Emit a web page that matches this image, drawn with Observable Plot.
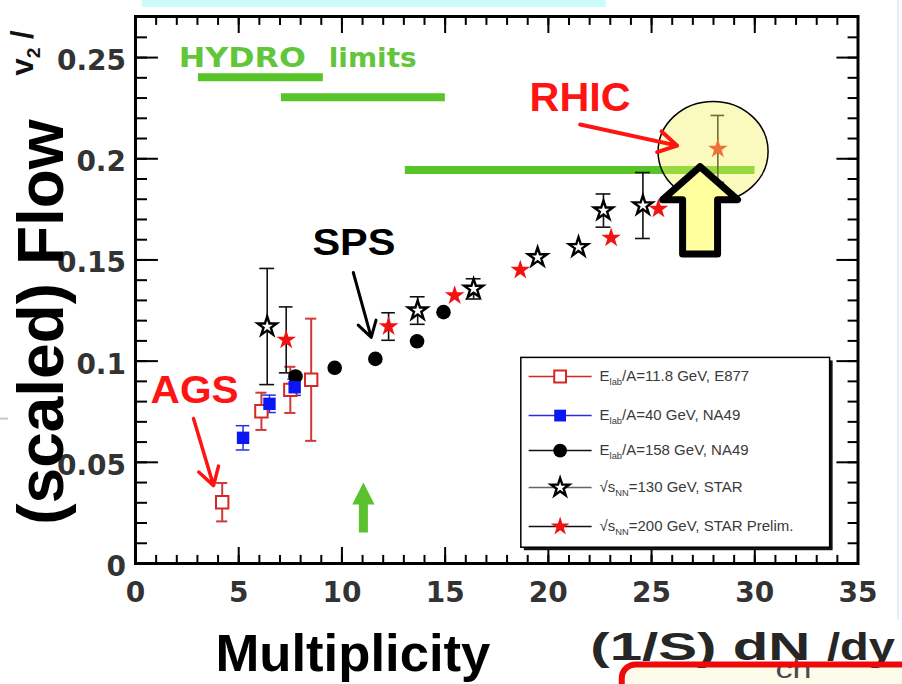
<!DOCTYPE html>
<html>
<head>
<meta charset="utf-8">
<script src="https://cdn.jsdelivr.net/npm/d3@7"></script>
<script src="https://cdn.jsdelivr.net/npm/@observablehq/plot@0.6"></script>
<style>
  html, body { margin: 0; padding: 0; background: #fff; }
  svg { display: block; }
</style>
</head>
<body>
<script>
// ================= DATA =================
// Multiplicity (1/S) dN_ch/dy  vs  scaled flow v2/eps
const e877X   = [4.20, 6.10, 7.50, 8.51];
const e877Y   = [0.0303, 0.0752, 0.0858, 0.0908];
const e877Err = [0.0095, 0.0092, 0.0114, 0.0302];

const na49lowX   = [5.21, 6.49, 7.71];
const na49lowY   = [0.0621, 0.0789, 0.0871];
const na49lowErr = [0.0060, 0.0043, 0.0040];

const na49highX = [7.75, 9.65, 11.62, 13.64, 14.92];
const na49highY = [0.0924, 0.0967, 0.1011, 0.1098, 0.1242];

const star130X   = [6.38, 13.67, 16.38, 19.48, 21.46, 22.67, 24.58];
const star130Y   = [0.1171, 0.1250, 0.1357, 0.1513, 0.1563, 0.1744, 0.1769];
const star130Err = [0.0287, 0.0068, 0.0050, 0, 0, 0.0082, 0.0163];

const star200X   = [7.30, 12.26, 15.46, 18.64, 23.04, 25.33, 28.21];
const star200Y   = [0.1105, 0.1171, 0.1324, 0.1450, 0.1609, 0.1752, 0.2049];
const star200Err = [0.0163, 0.0068, 0, 0, 0, 0, 0.0165];

// HYDRO limits (horizontal bands)
const hydroFrom = [3.05, 7.07, 13.07];
const hydroTo   = [9.10, 15.01, 30.01];
const hydroV2   = [0.2403, 0.2304, 0.1945];

const seriesNames = [
  "E_{lab}/A=11.8 GeV, E877",
  "E_{lab}/A=40 GeV, NA49",
  "E_{lab}/A=158 GeV, NA49",
  "√s_{NN}=130 GeV, STAR",
  "√s_{NN}=200 GeV, STAR Prelim."
];

const xTicks = [0, 5, 10, 15, 20, 25, 30, 35];
const xTickLabels = ["0", "5", "10", "15", "20", "25", "30", "35"];
const yTicks = [0, 0.05, 0.1, 0.15, 0.2, 0.25];
const yTickLabels = ["0", "0.05", "0.1", "0.15", "0.2", "0.25"];
const xMinorTicks = d3.range(0, 36);
const yMinorTicks = d3.range(0, 27).map(i => i / 100);

// ================= ANNOTATION PLACEMENT (data units) =================
const X_MAX = 35, Y_MAX = 0.2703;
const legendBox = {x1: 18.69, x2: 33.65, y1: 0.0078, y2: 0.1016};
const legendRowY = [0.0924, 0.0731, 0.0558, 0.0375, 0.0183];
const legendLineX = [19.07, 22.12], legendMarkX = 20.57, legendTextX = 22.48;

const rhicArrow = {x1: 21.54, y1: 0.2169, x2: 26.24, y2: 0.2065};
const spsArrow  = {x1: 10.55, y1: 0.1438, x2: 11.42, y2: 0.1117};
const agsArrow  = {x1: 2.81,  y1: 0.0716, x2: 3.78,  y2: 0.0385};
const rhicHalo  = {x: 27.98, y: 0.2036};
const yellowArrowSpec = {x: 27.35, tip: 0.1961, head: 0.1798, base: 0.1529, headHalf: 1.815, shaftHalf: 0.847};
const greenArrowSpec  = {x: 11.04, tip: 0.0400, head: 0.0292, base: 0.0153, headHalf: 0.54, shaftHalf: 0.218};
const cyanBar   = {x1: 0.34, x2: 22.80, y1: 0.2747, y2: 0.2790};
const redBox    = {x1: 23.58, x2: 40, y1: -0.0501, y2: -0.12};

// ================= HELPERS =================
const zip = (X, Y, E) => X.map((x, i) => ({x, y: Y[i], e: E ? E[i] : 0}));
const e877 = zip(e877X, e877Y, e877Err);
const na49low = zip(na49lowX, na49lowY, na49lowErr);
const na49high = zip(na49highX, na49highY);
const star130 = zip(star130X, star130Y, star130Err);
const star200 = zip(star200X, star200Y, star200Err);
const hydro = hydroV2.map((v, i) => ({v, from: hydroFrom[i], to: hydroTo[i]}));

function errorBars(data, color, width, cap) {
  const d = data.filter(p => p.e > 0);
  return [
    Plot.ruleX(d, {x: "x", y1: p => p.y - p.e, y2: p => p.y + p.e, stroke: color, strokeWidth: width}),
    Plot.ruleY(d, {y: p => p.y - p.e, x1: p => p.x - cap, x2: p => p.x + cap, stroke: color, strokeWidth: width}),
    Plot.ruleY(d, {y: p => p.y + p.e, x1: p => p.x - cap, x2: p => p.x + cap, stroke: color, strokeWidth: width})
  ];
}
function blockArrow(s) {
  return [
    {x: s.x, y: s.tip},
    {x: s.x + s.headHalf, y: s.head},
    {x: s.x + s.shaftHalf, y: s.head},
    {x: s.x + s.shaftHalf, y: s.base},
    {x: s.x - s.shaftHalf, y: s.base},
    {x: s.x - s.shaftHalf, y: s.head},
    {x: s.x - s.headHalf, y: s.head},
    {x: s.x, y: s.tip}
  ];
}
const ellipseSymbol = {
  draw(ctx, size) {
    const r = Math.sqrt(size / Math.PI), rx = r * 1.1, ry = r, k = 0.5523;
    ctx.moveTo(rx, 0);
    ctx.bezierCurveTo(rx, ry * k, rx * k, ry, 0, ry);
    ctx.bezierCurveTo(-rx * k, ry, -rx, ry * k, -rx, 0);
    ctx.bezierCurveTo(-rx, -ry * k, -rx * k, -ry, 0, -ry);
    ctx.bezierCurveTo(rx * k, -ry, rx, -ry * k, rx, 0);
    ctx.closePath();
  }
};

const SANS = "Liberation Sans, Arial, Helvetica, sans-serif";
const CHART = "DejaVu Sans, Verdana, sans-serif";
const RED = "#ff1414";
const GREEN = "#57c427";

const seriesStyle = [
  {line: "#d42828", symbol: "square", fill: "white", stroke: "#d42828", sw: 2, r: 7},
  {line: "#2030e0", symbol: "square", fill: "#0b16f2", stroke: "none", sw: 0, r: 7},
  {line: "#111111", symbol: "circle", fill: "black", stroke: "none", sw: 0, r: 7.3},
  {line: "#666666", symbol: "star", fill: "white", stroke: "black", sw: 2.4, r: 6},
  {line: "#111111", symbol: "star", fill: "#f21212", stroke: "none", sw: 0, r: 6.2}
];
const dotOpts = (s) => ({symbol: s.symbol, r: s.r, fill: s.fill, stroke: s.stroke, strokeWidth: s.sw});

// legend marks
const legendMarks = [
  Plot.rect([legendBox], {x1: "x1", x2: "x2", y1: "y1", y2: "y2", fill: "#111", dx: 3, dy: 3}),
  Plot.rect([legendBox], {x1: "x1", x2: "x2", y1: "y1", y2: "y2", fill: "white", stroke: "black", strokeWidth: 1.5})
];
seriesNames.forEach((name, i) => {
  const s = seriesStyle[i];
  legendMarks.push(Plot.ruleY([legendRowY[i]], {y: d => d, x1: legendLineX[0], x2: legendLineX[1], stroke: s.line, strokeWidth: 1.5}));
  legendMarks.push(Plot.dot([legendRowY[i]], {x: legendMarkX, y: d => d, ...dotOpts(s), r: s.r * 0.95}));
  legendMarks.push(Plot.text([name], {x: legendTextX, y: legendRowY[i], text: d => d, textAnchor: "start",
    lineAnchor: "middle", fontFamily: SANS, fontSize: 15, fill: "#3a3a3a"}));
});

const T = (text, x, y, o) => Plot.text([{text, x, y}], {x: "x", y: "y", text: "text", textAnchor: "start", lineAnchor: "bottom", ...o});

const chart = Plot.plot({
  width: 902,
  height: 684,
  marginLeft: 135,
  marginRight: 44.5,
  marginTop: 16,
  marginBottom: 121,
  x: {domain: [0, X_MAX], axis: null},
  y: {domain: [0, Y_MAX], axis: null},
  style: {background: "white", overflow: "visible"},
  marks: [
    // slide decorations
    Plot.rect([cyanBar], {x1: "x1", x2: "x2", y1: "y1", y2: "y2", fill: "#ccfbfb"}),
    Plot.ruleY([0.0716], {y: d => d, x1: -6.55, x2: -6.15, stroke: "#c8c8c8", strokeWidth: 2}),
    Plot.ruleX([36.94], {x: d => d, y1: 0.2782, y2: -0.028, stroke: "#dfe9ee", strokeWidth: 1.5}),

    // HYDRO limits
    Plot.ruleY(hydro, {y: "v", x1: "from", x2: "to", stroke: GREEN, strokeWidth: 8}),
    T("HYDRO", 2.10, 0.2452, {fontFamily: CHART, fontWeight: "bold", fontSize: 27, fill: "#62c63c"}),
    T("limits", 9.36, 0.2452, {fontFamily: CHART, fontWeight: "bold", fontSize: 27, fill: "#62c63c"}),

    // frame and inward ticks
    Plot.frame({stroke: "black", strokeWidth: 3}),
    Plot.ruleX(xTicks, {x: d => d, y1: 0, y2: 0.0079, stroke: "black", strokeWidth: 2}),
    Plot.ruleX(xMinorTicks, {x: d => d, y1: 0, y2: 0.0040, stroke: "black", strokeWidth: 2}),
    Plot.ruleX(xTicks, {x: d => d, y1: Y_MAX, y2: Y_MAX - 0.0084, stroke: "black", strokeWidth: 2}),
    Plot.ruleX(xMinorTicks, {x: d => d, y1: Y_MAX, y2: Y_MAX - 0.0044, stroke: "black", strokeWidth: 2}),
    Plot.ruleY(yTicks, {y: d => d, x1: 0, x2: 1.11, stroke: "black", strokeWidth: 2}),
    Plot.ruleY(yMinorTicks, {y: d => d, x1: 0, x2: 0.58, stroke: "black", strokeWidth: 2}),
    Plot.ruleY(yTicks, {y: d => d, x1: X_MAX, x2: X_MAX - 1.02, stroke: "black", strokeWidth: 2}),
    Plot.ruleY(yMinorTicks, {y: d => d, x1: X_MAX, x2: X_MAX - 0.48, stroke: "black", strokeWidth: 2}),

    // tick labels
    Plot.text(xTicks, {x: d => d, y: 0, text: (d, i) => xTickLabels[i], dy: 30, lineAnchor: "middle",
      fontFamily: CHART, fontWeight: "bold", fontSize: 28, fill: "#333"}),
    Plot.text(yTicks, {x: 0, y: d => d, text: (d, i) => yTickLabels[i], dx: -9.5, dy: 3.5, textAnchor: "end",
      lineAnchor: "middle", fontFamily: CHART, fontWeight: "bold", fontSize: 28, fill: "#333"}),

    // data: error bars
    ...errorBars(e877, "#d03a3a", 2, 0.27),
    ...errorBars(na49low, "#2233dd", 1.5, 0.33),
    ...errorBars(star130, "#111", 1.6, 0.36),
    ...errorBars(star200, "#111", 1.6, 0.33),

    // data: markers
    Plot.dot(na49high, {x: "x", y: "y", ...dotOpts(seriesStyle[2])}),
    Plot.dot(star200, {x: "x", y: "y", ...dotOpts(seriesStyle[4])}),
    Plot.dot(star130, {x: "x", y: "y", ...dotOpts(seriesStyle[3])}),
    Plot.dot(e877, {x: "x", y: "y", ...dotOpts(seriesStyle[0])}),
    Plot.dot(na49low, {x: "x", y: "y", ...dotOpts(seriesStyle[1])}),

    // legend
    ...legendMarks,

    // annotations
    T("RHIC", 19.09, 0.2238, {fontFamily: SANS, fontWeight: "bold", fontSize: 41, fill: RED}),
    T("SPS", 8.57, 0.1522, {fontFamily: SANS, fontWeight: "bold", fontSize: 36, fill: "black"}),
    T("AGS", 0.73, 0.0795, {fontFamily: SANS, fontWeight: "bold", fontSize: 38, fill: RED}),
    Plot.line(blockArrow(greenArrowSpec), {x: "x", y: "y", fill: "#5cc12e", stroke: "none"}),
    Plot.dot([rhicHalo], {x: "x", y: "y", symbol: ellipseSymbol, r: 50, fill: "#f3f366", fillOpacity: 0.42, stroke: "black", strokeWidth: 1.5}),
    Plot.arrow([rhicArrow], {x1: "x1", y1: "y1", x2: "x2", y2: "y2", stroke: RED, strokeWidth: 4, headLength: 7.9, headAngle: 60}),
    Plot.arrow([spsArrow], {x1: "x1", y1: "y1", x2: "x2", y2: "y2", stroke: "black", strokeWidth: 3, headLength: 9, headAngle: 62}),
    Plot.arrow([agsArrow], {x1: "x1", y1: "y1", x2: "x2", y2: "y2", stroke: RED, strokeWidth: 3.5, headLength: 8.6, headAngle: 62}),
    Plot.line(blockArrow(yellowArrowSpec), {x: "x", y: "y", fill: "#ffff9e", stroke: "black", strokeWidth: 7, strokeLinejoin: "round"}),

    // axis titles (slide text)
    Plot.text([{text: "(scaled) Flow", x: -3.49, y: 0.1193}], {x: "x", y: "y", text: "text", rotate: -90,
      textAnchor: "middle", lineAnchor: "bottom", fontFamily: SANS, fontWeight: "bold", fontSize: 64, fill: "black"}),
    Plot.text([{text: "v_{2} /", x: -4.95, y: 0.2411}], {x: "x", y: "y", text: "text", rotate: -90,
      textAnchor: "start", lineAnchor: "bottom", fontFamily: SANS, fontWeight: "bold", fontSize: 31, fill: "#111"}),
    T("Multiplicity", 3.87, -0.0529, {fontFamily: SANS, fontWeight: "bold", fontSize: 52, fill: "black"}),
    Plot.rect([redBox], {x1: "x1", x2: "x2", y1: "y1", y2: "y2", fill: "#fdfcea"}),
    T("(1/S) dN", 22.03, -0.0479, {fontFamily: SANS, fontWeight: "bold", fontSize: 39, fill: "#262626"}),
    T("/dy", 33.5, -0.0479, {fontFamily: SANS, fontWeight: "bold", fontSize: 39, fill: "#262626"}),
    T("ch", 31.0, -0.0568, {fontFamily: SANS, fontSize: 25, fill: "#4a4a4a"}),
    Plot.rect([redBox], {x1: "x1", x2: "x2", y1: "y1", y2: "y2", fill: "none", stroke: "#ee0a0a", strokeWidth: 6, rx: 14})
  ]
});

// ---- text post-processing: widths of stretched labels and subscripts ----
const fit = {"HYDRO": 127, "limits": 88, "SPS": 83, "AGS": 88, "RHIC": 101, "Multiplicity": 275,
             "(1/S) dN": 220, "/dy": 68, "ch": 36};
d3.select(chart).selectAll("text").each(function () {
  const t = this.textContent;
  if (fit[t]) {
    this.setAttribute("textLength", fit[t]);
    this.setAttribute("lengthAdjust", "spacingAndGlyphs");
  }
  if (t.includes("_{")) {
    const parts = t.split(/(_\{[^}]*\})/).filter(p => p.length);
    const sel = d3.select(this);
    sel.text(null);
    let wasSub = false;
    for (const p of parts) {
      if (p.startsWith("_{")) {
        sel.append("tspan").attr("font-size", "0.62em").attr("dy", "0.35em").text(p.slice(2, -1));
        wasSub = true;
      } else {
        const ts = sel.append("tspan").text(p);
        if (wasSub) ts.attr("dy", "-0.217em");
        wasSub = false;
      }
    }
  }
});

document.body.appendChild(chart);
</script>
</body>
</html>
